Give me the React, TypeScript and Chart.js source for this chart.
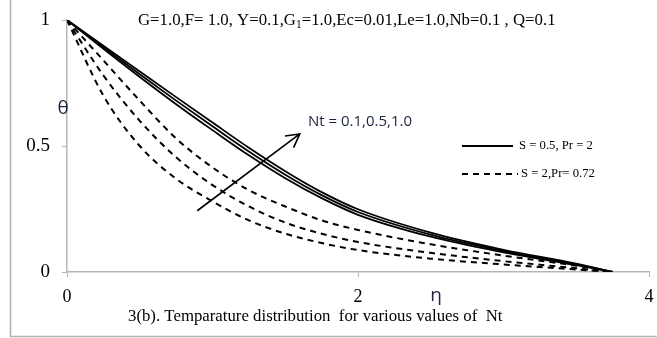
import React, { useEffect, useRef } from 'react';
import { Chart, registerables } from 'chart.js';
Chart.register(...registerables);

// η grid
const eta = [0, 0.25, 0.5, 0.75, 1.0, 1.25, 1.5, 1.75, 2.0, 2.5, 3.0, 3.5, 3.75];
// S = 0.5, Pr = 2 (solid), Nt = 0.1, 0.5, 1.0
const solidNt01 = [1, 0.886, 0.774, 0.666, 0.563, 0.463, 0.372, 0.293, 0.227, 0.14, 0.078, 0.027, 0];
const solidNt05 = [1, 0.892, 0.785, 0.68, 0.578, 0.478, 0.386, 0.305, 0.238, 0.148, 0.083, 0.03, 0];
const solidNt10 = [1, 0.898, 0.796, 0.694, 0.593, 0.493, 0.4, 0.317, 0.249, 0.156, 0.088, 0.033, 0];
// S = 2, Pr = 0.72 (dashed), Nt = 0.1, 0.5, 1.0
const dashNt01 = [1, 0.7, 0.5, 0.37, 0.28, 0.205, 0.152, 0.115, 0.087, 0.053, 0.03, 0.01, 0];
const dashNt05 = [1, 0.78, 0.6, 0.455, 0.345, 0.26, 0.196, 0.152, 0.119, 0.076, 0.043, 0.015, 0];
const dashNt10 = [1, 0.84, 0.68, 0.53, 0.415, 0.325, 0.26, 0.205, 0.167, 0.11, 0.065, 0.025, 0];

const xTicks = [0, 2, 4];
const yTicks = [0, 0.5, 1];
const yTickLabels = ['0', '0.5', '1'];

const titleParts = ['G=1.0,F= 1.0, Υ=0.1,G', '1', '=1.0,Ec=0.01,Le=1.0,Nb=0.1 , Q=0.1'];
const caption = '3(b). Temparature distribution  for various values of  Nt';
const legendSolid = 'S = 0.5, Pr = 2';
const legendDashed = 'S = 2,Pr= 0.72';
const ntLabel = 'Nt = 0.1,0.5,1.0';
// arrow in data coords (η, θ)
const arrowFrom = [0.895, 0.243];
const arrowTo = [1.6, 0.548];

const SERIF = '"Liberation Serif", "Times New Roman", serif';
const SANS = '"Open Sans", "Liberation Sans", sans-serif';
const NAVY = '#1b2440';
const GRAY = '#b5b5b5';

function pts(ys: number[]) {
  return ys.map((y, i) => ({ x: eta[i], y }));
}

const annot = {
  id: 'annot',
  beforeDraw(chart: any) {
    const ctx = chart.ctx;
    ctx.save();
    ctx.fillStyle = '#fff';
    ctx.fillRect(0, 0, chart.width, chart.height);
    ctx.restore();
  },
  afterDraw(chart: any) {
    const ctx = chart.ctx;
    const xs = chart.scales.x;
    const ys = chart.scales.y;
    ctx.save();
    // outer frame (left & bottom)
    ctx.strokeStyle = '#b0b0b0';
    ctx.lineWidth = 1.5;
    ctx.beginPath();
    ctx.moveTo(10.5, 0);
    ctx.lineTo(10.5, 336.5);
    ctx.lineTo(657, 336.5);
    ctx.stroke();

    // title with subscript
    ctx.fillStyle = '#000';
    ctx.textBaseline = 'middle';
    ctx.textAlign = 'left';
    let x = 138;
    const ty = 21;
    ctx.font = `16.8px ${SERIF}`;
    ctx.fillText(titleParts[0], x, ty);
    x += ctx.measureText(titleParts[0]).width;
    ctx.font = `11.5px ${SERIF}`;
    ctx.fillText(titleParts[1], x, ty + 4);
    x += ctx.measureText(titleParts[1]).width;
    ctx.font = `16.8px ${SERIF}`;
    ctx.fillText(titleParts[2], x, ty);

    // caption
    ctx.font = `16.8px ${SERIF}`;
    ctx.fillText(caption, 128, 317);

    // legend
    ctx.strokeStyle = '#000';
    ctx.lineWidth = 2;
    ctx.beginPath();
    ctx.moveTo(462, 146);
    ctx.lineTo(513, 146);
    ctx.stroke();
    ctx.setLineDash([6, 5]);
    ctx.beginPath();
    ctx.moveTo(462, 174);
    ctx.lineTo(518, 174);
    ctx.stroke();
    ctx.setLineDash([]);
    ctx.font = `12.7px ${SERIF}`;
    ctx.fillText(legendSolid, 519, 146);
    ctx.fillText(legendDashed, 521, 174);

    // axis symbols
    ctx.fillStyle = NAVY;
    ctx.font = `19px ${SANS}`;
    ctx.textAlign = 'center';
    ctx.fillText('θ', 63, 109);
    ctx.fillText('η', 436, 296);

    // Nt label
    ctx.font = `15px ${SANS}`;
    ctx.textAlign = 'left';
    ctx.fillText(ntLabel, 308, 122);

    // arrow
    const x0 = xs.getPixelForValue(arrowFrom[0]);
    const y0 = ys.getPixelForValue(arrowFrom[1]);
    const x1 = xs.getPixelForValue(arrowTo[0]);
    const y1 = ys.getPixelForValue(arrowTo[1]);
    ctx.strokeStyle = '#000';
    ctx.lineWidth = 1.6;
    ctx.beginPath();
    ctx.moveTo(x0, y0);
    ctx.lineTo(x1, y1);
    const ang = Math.atan2(y1 - y0, x1 - x0);
    const L = 15;
    const spread = 0.5;
    ctx.moveTo(x1 - L * Math.cos(ang - spread), y1 - L * Math.sin(ang - spread));
    ctx.lineTo(x1, y1);
    ctx.lineTo(x1 - L * Math.cos(ang + spread), y1 - L * Math.sin(ang + spread));
    ctx.stroke();
    ctx.restore();
  },
};

export default function App() {
  const ref = useRef<HTMLCanvasElement>(null);
  useEffect(() => {
    if (!ref.current) return;
    const solid = { borderColor: '#000', borderWidth: 1.8, pointRadius: 0, cubicInterpolationMode: 'monotone', fill: false };
    const dashed = { ...solid, borderWidth: 2, borderDash: [6, 5] };
    const chart = new Chart(ref.current, {
      type: 'line',
      data: {
        datasets: [
          { label: 'S=0.5 Nt=0.1', data: pts(solidNt01), ...solid },
          { label: 'S=0.5 Nt=0.5', data: pts(solidNt05), ...solid },
          { label: 'S=0.5 Nt=1.0', data: pts(solidNt10), ...solid },
          { label: 'S=2 Nt=0.1', data: pts(dashNt01), ...dashed },
          { label: 'S=2 Nt=0.5', data: pts(dashNt05), ...dashed },
          { label: 'S=2 Nt=1.0', data: pts(dashNt10), ...dashed },
        ] as any,
      },
      options: {
        animation: false,
        responsive: false,
        devicePixelRatio: 1,
        layout: { autoPadding: false, padding: { top: 20, right: 8, left: 0, bottom: 0 } },
        plugins: { legend: { display: false }, tooltip: { enabled: false }, title: { display: false } },
        scales: {
          x: {
            type: 'linear',
            min: 0,
            max: 4,
            afterBuildTicks: (s: any) => { s.ticks = xTicks.map((v) => ({ value: v })); },
            ticks: { font: { family: SERIF, size: 18 }, color: '#000', padding: 9, maxRotation: 0 },
            grid: { drawOnChartArea: false, drawTicks: true, tickLength: 5, color: GRAY },
            border: { color: GRAY, width: 1.5 },
            afterFit: (s: any) => { s.height = 66; s.paddingLeft = 0; s.paddingRight = 0; },
          },
          y: {
            type: 'linear',
            min: 0,
            max: 1,
            afterBuildTicks: (s: any) => { s.ticks = yTicks.map((v) => ({ value: v })); },
            ticks: {
              font: { family: SERIF, size: 19 },
              color: '#000',
              padding: 12,
              callback: (v: any) => yTickLabels[yTicks.indexOf(Number(v))] ?? String(v),
            },
            grid: { drawOnChartArea: false, drawTicks: true, tickLength: 5, color: GRAY },
            border: { color: GRAY, width: 1.5 },
            afterFit: (s: any) => { s.width = 67; s.paddingTop = 0; s.paddingBottom = 0; },
          },
        },
      } as any,
      plugins: [annot],
    });
    return () => chart.destroy();
  }, []);
  return (
    <div style={{ position: 'absolute', left: 0, top: 0, width: 657, height: 338 }}>
      <canvas ref={ref} width={657} height={338} style={{ width: 657, height: 338, display: 'block' }} />
    </div>
  );
}
